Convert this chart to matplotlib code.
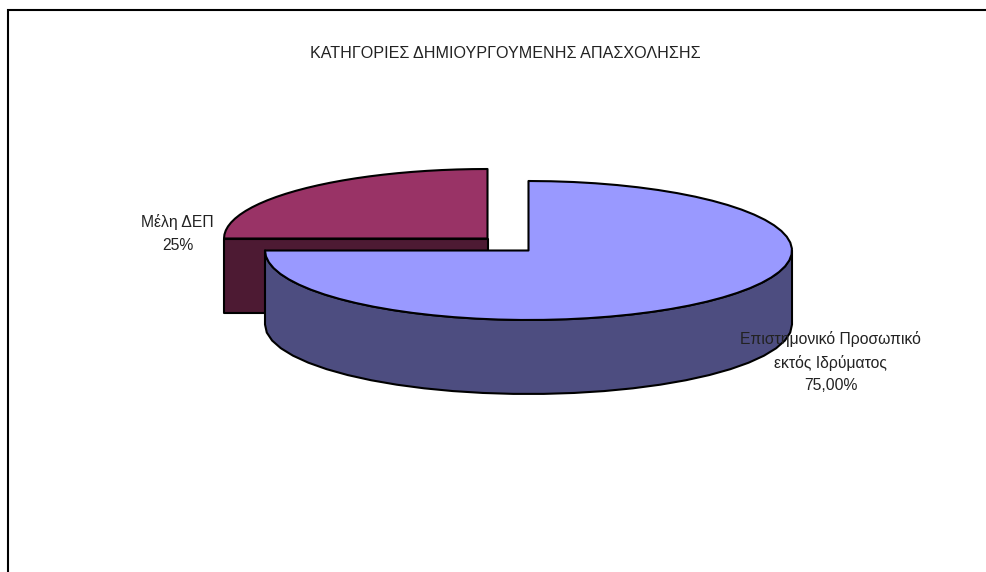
import numpy as np
import matplotlib
matplotlib.use("Agg")
import matplotlib.pyplot as plt
from matplotlib.patches import Polygon

plt.rcParams['font.family'] = ['Liberation Sans', 'DejaVu Sans']

title = "ΚΑΤΗΓΟΡΙΕΣ ΔΗΜΙΟΥΡΓΟΥΜΕΝΗΣ ΑΠΑΣΧΟΛΗΣΗΣ"
labels = ["Επιστημονικό Προσωπικό\nεκτός Ιδρύματος\n75,00%", "Μέλη ΔΕΠ\n25%"]
values = [75, 25]

# pixel coordinates, y goes down
fig = plt.figure(figsize=(9.87, 5.72), dpi=100)
ax = fig.add_axes([0, 0, 1, 1])
ax.set_xlim(0, 987)
ax.set_ylim(572, 0)
ax.axis("off")

rx, ry, depth = 263.5, 69.5, 74
lw = 1.5


def rim(cx, cy, a1, a2, n=28):
    # a in degrees, counted anticlockwise from the right
    a = np.radians(np.linspace(a1, a2, n))
    return np.c_[cx + rx*np.cos(a), cy - ry*np.sin(a)]


def poly(pts, color):
    ax.add_patch(Polygon(pts, closed=True, facecolor=color, edgecolor="black",
                         linewidth=lw, joinstyle="round"))


a_big = 90 - 360*values[0]/sum(values)     # clockwise from 12 o'clock
a_small = a_big - 360*values[1]/sum(values)

# small slice, pulled out up and left
cx, cy = 487.5, 238.5
left = rim(cx, cy, a_big, a_big)[0]
poly([left, (cx, cy), (cx, cy+depth), (left[0], cy+depth)], "#4d1a33")
poly(np.vstack([[(cx, cy)], rim(cx, cy, a_small, a_big)]), "#993366")

# big slice
cx, cy = 528.5, 250.5
front = rim(cx, cy, 0, a_big)
poly(np.vstack([front, front[::-1] + [0, depth]]), "#4d4d80")
poly(np.vstack([[(cx, cy)], rim(cx, cy, 90, a_big, 56)]), "#9999ff")

# frame, cut off by the image edges
ax.plot([8, 8, 987], [572, 10, 10], color="black", linewidth=1.5,
        solid_joinstyle="miter", clip_on=False)

ax.text(505, 53, title, ha="center", va="center", fontsize=11.6, color="#222222")
ax.text(830.5, 362, labels[0], ha="center", va="center", fontsize=11.3,
        color="#222222", linespacing=1.62)
ax.text(177.5, 233.5, labels[1], ha="center", va="center", fontsize=11.3,
        color="#222222", linespacing=1.62)

fig.savefig("out.png", dpi=100)
